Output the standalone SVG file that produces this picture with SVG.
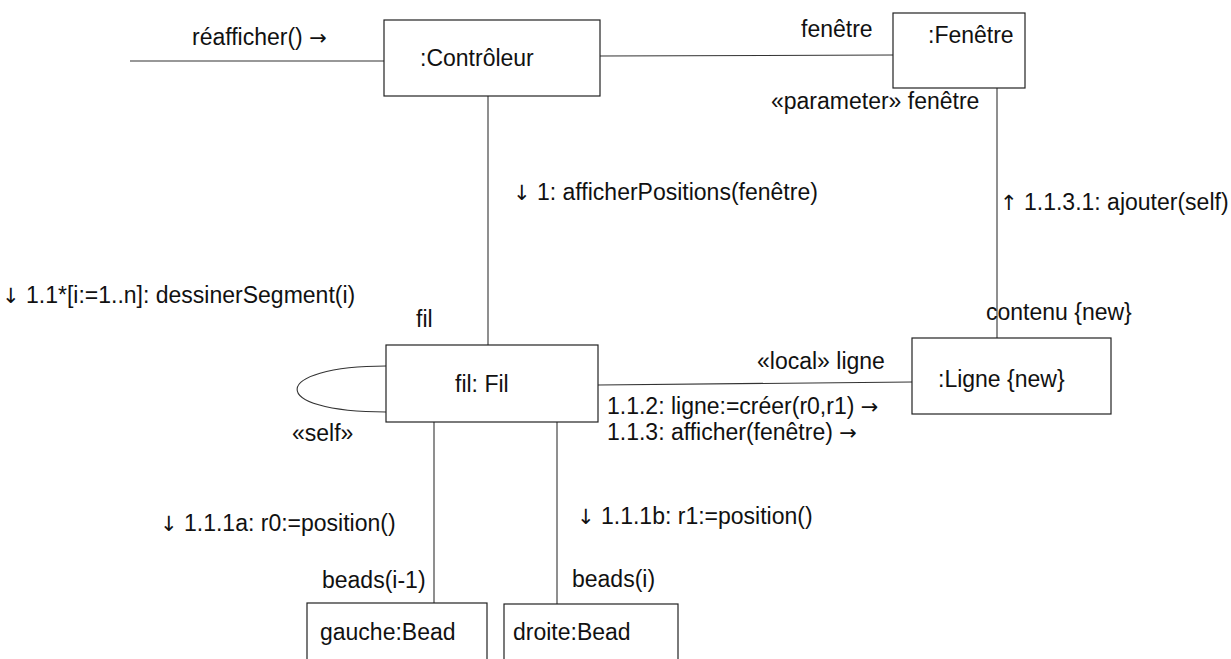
<svg xmlns="http://www.w3.org/2000/svg" width="1231" height="659" viewBox="0 0 1231 659">
  <style>
    .box { fill: #ffffff; stroke: #222222; stroke-width: 1.2; }
    .link { fill: none; stroke: #333333; stroke-width: 1.1; }
    text { font-family: "Liberation Sans", Arial, sans-serif; font-size: 23px; fill: #111111; }
    .arr { font-family: "DejaVu Sans", sans-serif; font-size: 21px; }
  </style>
  <rect width="1231" height="659" fill="#ffffff"/>

  <!-- links between objects -->
  <g id="connectors">
    <line class="link" x1="130" y1="61" x2="384" y2="61"/>
    <line class="link" x1="600" y1="56" x2="893" y2="55"/>
    <line class="link" x1="488" y1="96" x2="488" y2="345"/>
    <line class="link" x1="997" y1="88" x2="997" y2="338"/>
    <line class="link" x1="598" y1="385" x2="912" y2="382"/>
    <path class="link" d="M386,366 C 270,366 265,412 386,412"/>
    <line class="link" x1="434" y1="422" x2="434" y2="603"/>
    <line class="link" x1="557" y1="422" x2="557" y2="604"/>
  </g>

  <!-- message and role labels -->
  <g id="labels">
    <text x="192" y="45">réafficher() <tspan class="arr">→</tspan></text>
    <text x="801" y="37">fenêtre</text>
    <text x="771" y="109">«parameter» fenêtre</text>
    <text x="513" y="200"><tspan class="arr">↓</tspan> 1: afficherPositions(fenêtre)</text>
    <text x="1000" y="210"><tspan class="arr">↑</tspan> 1.1.3.1: ajouter(self)</text>
    <text x="2" y="303"><tspan class="arr">↓</tspan> 1.1*[i:=1..n]: dessinerSegment(i)</text>
    <text x="416" y="327">fil</text>
    <text x="986" y="320">contenu {new}</text>
    <text x="757" y="369">«local» ligne</text>
    <text x="607" y="414">1.1.2: ligne:=créer(r0,r1) <tspan class="arr">→</tspan></text>
    <text x="607" y="440">1.1.3: afficher(fenêtre) <tspan class="arr">→</tspan></text>
    <text x="292" y="441">«self»</text>
    <text x="160" y="531"><tspan class="arr">↓</tspan> 1.1.1a: r0:=position()</text>
    <text x="577" y="524"><tspan class="arr">↓</tspan> 1.1.1b: r1:=position()</text>
    <text x="322" y="588">beads(i-1)</text>
    <text x="572" y="587">beads(i)</text>
  </g>

  <g id="controleur">
    <rect class="box" x="384" y="20" width="216" height="76"/>
    <text x="420" y="66">:Contrôleur</text>
  </g>
  <g id="fenetre">
    <rect class="box" x="893" y="13" width="132" height="75"/>
    <text x="928" y="43">:Fenêtre</text>
  </g>
  <g id="fil">
    <rect class="box" x="386" y="345" width="212" height="77"/>
    <text x="455" y="392">fil: Fil</text>
  </g>
  <g id="ligne">
    <rect class="box" x="912" y="338" width="199" height="76"/>
    <text x="938" y="387">:Ligne {new}</text>
  </g>
  <g id="gauche">
    <rect class="box" x="307" y="603" width="180" height="70"/>
    <text x="320" y="640">gauche:Bead</text>
  </g>
  <g id="droite">
    <rect class="box" x="504" y="604" width="174" height="70"/>
    <text x="513" y="640">droite:Bead</text>
  </g>
</svg>
